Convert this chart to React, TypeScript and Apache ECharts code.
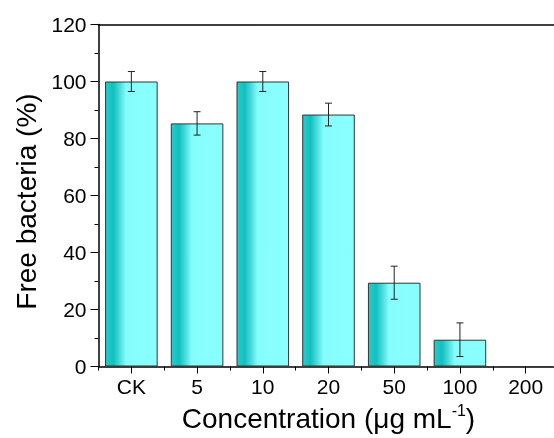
import React, { useEffect, useRef } from "react";
import * as echarts from "echarts";

const categories = ["CK", "5", "10", "20", "50", "100", "200"];
const values = [100, 85.3, 100, 88.4, 29.4, 9.4, 0];
const errors = [3.5, 4.1, 3.5, 4.0, 5.8, 5.9, 0];
const yTicks = { min: 0, max: 120, interval: 20 };

const FONT = "Liberation Sans, Arial, Helvetica, sans-serif";

export default function App() {
  const ref = useRef<HTMLDivElement>(null);
  useEffect(() => {
    document.body.style.margin = "0";
    document.body.style.overflow = "hidden";
    const chart = echarts.init(ref.current!, null, { renderer: "svg" });
    const barGradient = new echarts.graphic.LinearGradient(0, 0, 1, 0, [
      { offset: 0, color: "#28cccc" },
      { offset: 0.15, color: "#12bfbf" },
      { offset: 0.28, color: "#4ddddd" },
      { offset: 0.4, color: "#86fdfd" },
      { offset: 1, color: "#8affff" },
    ]);
    const errData = values.map((v, i) => [i, v, errors[i]]);
    chart.setOption({
      animation: false,
      grid: {
        left: 98.5,
        top: 24.5,
        bottom: 71.5,
        right: -4.5,
        containLabel: false,
        outerBoundsMode: "none",
      },
      xAxis: [
        {
          type: "category",
          data: categories,
          position: "bottom",
          axisLine: { show: true, lineStyle: { color: "#000", width: 1.5 } },
          axisTick: { show: true, length: 4, lineStyle: { color: "#000", width: 1 } },
          axisLabel: { color: "#000", fontSize: 21, fontFamily: FONT, margin: 9 },
          name: "Concentration (μg mL{sup|-1})",
          nameLocation: "middle",
          nameGap: 36,
          nameTextStyle: {
            color: "#000",
            fontSize: 28,
            fontFamily: FONT,
            lineHeight: 32,
            rich: {
              sup: { fontSize: 16, fontFamily: FONT, color: "#000", verticalAlign: "top", lineHeight: 32, padding: [0, 0, 12, 0] },
            },
          },
          splitLine: { show: false },
        },
        {
          type: "category",
          data: categories,
          position: "bottom",
          axisLine: { show: false },
          axisTick: { show: true, alignWithLabel: true, length: 7, lineStyle: { color: "#000", width: 1 } },
          axisLabel: { show: false },
          splitLine: { show: false },
        },
        {
          type: "category",
          data: categories,
          position: "top",
          axisLine: { show: true, onZero: false, lineStyle: { color: "#000", width: 1.5 } },
          axisTick: { show: false },
          axisLabel: { show: false },
          splitLine: { show: false },
        },
      ],
      yAxis: {
        type: "value",
        min: yTicks.min,
        max: yTicks.max,
        interval: yTicks.interval,
        axisLine: { show: true, lineStyle: { color: "#000", width: 1.5 } },
        axisTick: { show: true, length: 8, lineStyle: { color: "#000", width: 1 } },
        minorTick: { show: true, splitNumber: 2, length: 4, lineStyle: { color: "#000", width: 1 } },
        axisLabel: { color: "#000", fontSize: 21, fontFamily: FONT, margin: 12 },
        splitLine: { show: false },
        name: "Free bacteria (%)",
        nameLocation: "middle",
        nameGap: 58,
        nameTextStyle: { color: "#000", fontSize: 28, fontFamily: FONT, padding: [0, 12, 0, 0] },
      },
      series: [
        {
          type: "bar",
          data: values,
          xAxisIndex: 0,
          barCategoryGap: "20%",
          itemStyle: { color: barGradient, borderColor: "#333", borderWidth: 1 },
        },
        {
          type: "custom",
          xAxisIndex: 0,
          data: errData,
          z: 5,
          renderItem: (params: any, api: any) => {
            const i = api.value(0);
            const v = api.value(1);
            const e = api.value(2);
            if (!e) return null;
            const top = api.coord([i, v + e]);
            const bot = api.coord([i, v - e]);
            const hw = 3.5;
            const style = { stroke: "#222", lineWidth: 1 };
            return {
              type: "group",
              children: [
                { type: "line", shape: { x1: top[0], y1: top[1], x2: bot[0], y2: bot[1] }, style },
                { type: "line", shape: { x1: top[0] - hw, y1: top[1], x2: top[0] + hw, y2: top[1] }, style },
                { type: "line", shape: { x1: bot[0] - hw, y1: bot[1], x2: bot[0] + hw, y2: bot[1] }, style },
              ],
            };
          },
        },
      ],
    });
    return () => chart.dispose();
  }, []);
  return <div ref={ref} style={{ position: "fixed", left: 0, top: 0, width: 554, height: 438 }} />;
}
